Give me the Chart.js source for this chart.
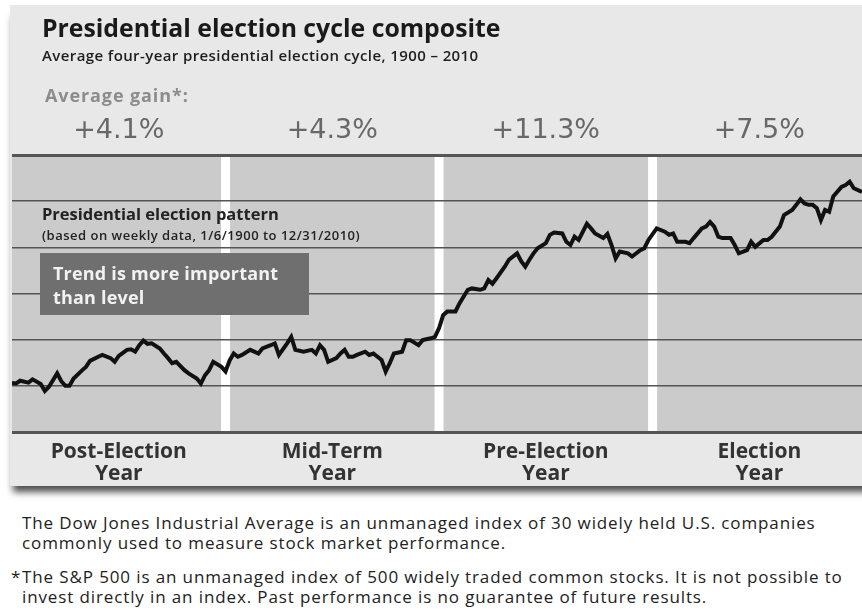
<!DOCTYPE html>
<html>
<head>
<meta charset="utf-8">
<title>Presidential election cycle composite</title>
<script src="https://cdn.jsdelivr.net/npm/chart.js@4.4.1/dist/chart.umd.min.js"></script>
<style>
    body {
        margin: 0;
        width: 862px;
        height: 610px;
        overflow: hidden;
        background: #fff;
        position: relative;
        font-family: "Open Sans", sans-serif;
        color: #1e1e1e;
    }
    .panel {
        position: absolute;
        left: 10px;
        top: 5px;
        width: 870px;
        height: 481px;
        background: #e8e8e8;
        box-shadow: 0 9px 7px -3px rgba(0, 0, 0, 0.7);
    }
    #cycleChart {
        position: absolute;
        left: 0;
        top: 0;
    }
    .txt {
        position: absolute;
        white-space: nowrap;
    }
    .title { left: 42px; top: 12px; font: 700 24.8px/30px "Open Sans", sans-serif; color: #1a1a1a; }
    .subtitle { left: 42px; top: 45px; font: 600 15px/20px "Open Sans", sans-serif; letter-spacing: 0.4px; }
    .gain-label { left: 45px; top: 84px; font: 700 18px/22px "Open Sans", sans-serif; letter-spacing: 0.9px; color: #8c8c8c; }
    .pattern { left: 42px; top: 203px; font: 700 16.5px/22px "Open Sans", sans-serif; color: #222; }
    .pattern-sub { left: 42px; top: 227px; font: 600 13px/16px "Open Sans", sans-serif; letter-spacing: 0.5px; color: #222; }
    .trend-box {
        left: 40px; top: 253px; width: 256px; height: 54px;
        padding: 8px 0 0 13px;
        background: #6f6f6f; color: #f2f2f2;
        font: 700 18px/24px "Open Sans", sans-serif;
        letter-spacing: 0.2px;
        white-space: normal;
    }
    .note { left: 22px; font: 17px/20px "Open Sans", sans-serif; letter-spacing: 0.88px; color: #222; }
    .star { left: 11px; font: 17px/20px "Open Sans", sans-serif; color: #222; }
</style>
</head>
<body>
<div class="panel"></div>
<canvas id="cycleChart" width="862" height="500"></canvas>

<div class="txt title">Presidential election cycle composite</div>
<div class="txt subtitle">Average four-year presidential election cycle, 1900 – 2010</div>
<div class="txt gain-label">Average gain*:</div>
<div class="txt pattern">Presidential election pattern</div>
<div class="txt pattern-sub">(based on weekly data, 1/6/1900 to 12/31/2010)</div>
<div class="txt trend-box">Trend is more important<br>than level</div>

<div class="txt note" style="top:513px">The Dow Jones Industrial Average is an unmanaged index of 30 widely held U.S. companies<br>commonly used to measure stock market performance.</div>
<div class="txt star" style="top:567px">*</div>
<div class="txt note" style="top:567px">The S&amp;P 500 is an unmanaged index of 500 widely traded common stocks. It is not possible to<br>invest directly in an index. Past performance is no guarantee of future results.</div>

<script>
// week of the four-year cycle (0 = start of post-election year)
const weeks = [0, 1, 2, 4, 5, 7, 8, 9, 11, 12,
    13, 14, 15, 17, 18, 19, 21, 22, 24, 25,
    26, 28, 29, 30, 31, 32, 33, 34, 36, 37,
    38, 39, 40, 42, 43, 45, 46, 47, 48, 49,
    51, 52, 53, 54, 55, 56, 58, 59, 60, 61,
    63, 64, 65, 67, 68, 69, 71, 73, 74, 75,
    76, 77, 79, 80, 81, 82, 83, 84, 86, 87,
    88, 90, 91, 92, 93, 95, 96, 97, 99, 100,
    102, 103, 104, 105, 106, 108, 109, 111, 112, 114,
    115, 116, 117, 118, 120, 121, 123, 124, 125, 126,
    127, 128, 130, 131, 132, 134, 135, 136, 137, 138,
    140, 141, 142, 144, 145, 146, 147, 148, 150, 151,
    153, 154, 155, 157, 159, 160, 161, 162, 164, 165,
    166, 168, 169, 170, 171, 172, 173, 175, 176, 177,
    179, 180, 181, 183, 184, 185, 187, 188, 190, 191,
    192, 193, 194, 195, 196, 197, 198, 199, 200, 202,
    203, 204, 205, 207];

// composite level (in grid-line units)
const composite = [1.06, 1.05, 1.11, 1.07, 1.14, 1.04, 0.89, 0.98, 1.27, 1.10,
    1.00, 1.00, 1.16, 1.33, 1.41, 1.54, 1.63, 1.67, 1.60, 1.52,
    1.65, 1.78, 1.79, 1.74, 1.88, 1.98, 1.91, 1.92, 1.81, 1.70,
    1.60, 1.49, 1.52, 1.34, 1.27, 1.16, 1.05, 1.23, 1.34, 1.52,
    1.41, 1.31, 1.55, 1.70, 1.63, 1.67, 1.78, 1.74, 1.70, 1.81,
    1.88, 1.92, 1.67, 1.92, 2.06, 1.78, 1.74, 1.78, 1.70, 1.88,
    1.78, 1.52, 1.60, 1.70, 1.78, 1.63, 1.63, 1.67, 1.74, 1.67,
    1.70, 1.56, 1.31, 1.49, 1.70, 1.74, 1.99, 1.99, 1.88, 1.99,
    2.03, 2.06, 2.25, 2.53, 2.61, 2.61, 2.79, 3.08, 3.11, 3.08,
    3.11, 3.29, 3.21, 3.33, 3.58, 3.73, 3.87, 3.70, 3.58, 3.73,
    3.87, 3.98, 4.09, 4.27, 4.32, 4.30, 4.12, 4.05, 4.23, 4.16,
    4.51, 4.41, 4.30, 4.20, 4.29, 4.05, 3.76, 3.91, 3.87, 3.80,
    3.94, 3.98, 4.16, 4.41, 4.34, 4.27, 4.30, 4.12, 4.12, 4.09,
    4.20, 4.41, 4.45, 4.55, 4.45, 4.23, 4.20, 4.20, 4.05, 3.87,
    3.94, 4.12, 4.01, 4.16, 4.16, 4.23, 4.45, 4.70, 4.81, 4.92,
    5.04, 4.95, 4.92, 4.92, 4.85, 4.59, 4.81, 4.77, 5.10, 5.31,
    5.35, 5.42, 5.28, 5.20];

const yearLabels = [
    ['Post-Election', 'Year'],
    ['Mid-Term', 'Year'],
    ['Pre-Election', 'Year'],
    ['Election', 'Year']
];
const avgGain = ['+4.1%', '+4.3%', '+11.3%', '+7.5%'];
const yearCenters = [26, 78, 130, 182];
const yearBreaks = [52, 104, 156];

// gray plot band + white year separators, drawn under the grid lines
const bandPlugin = {
    id: 'yearBands',
    beforeDraw(chart) {
        const ctx = chart.ctx;
        const a = chart.chartArea;
        const xs = chart.scales.x;
        ctx.save();
        ctx.fillStyle = '#cbcbcb';
        ctx.fillRect(a.left, a.top, a.right - a.left, a.bottom - a.top);
        ctx.fillStyle = '#ffffff';
        yearBreaks.forEach(function(w) {
            const px = xs.getPixelForValue(w);
            ctx.fillRect(px - 4.5, a.top, 9, a.bottom - a.top);
        });
        ctx.restore();
    }
};

const canvas = document.getElementById('cycleChart');

new Chart(canvas, {
    type: 'line',
    data: {
        datasets: [{
            data: weeks.map((w, i) => ({ x: w, y: composite[i] })),
            borderColor: '#111',
            borderWidth: 4,
            pointRadius: 0,
            tension: 0
        }]
    },
    options: {
        responsive: false,
        animation: false,
        layout: { padding: { top: 100, left: 12, right: 0, bottom: 8 } },
        plugins: {
            legend: { display: false },
            tooltip: { enabled: false }
        },
        scales: {
            x: {
                type: 'linear',
                position: 'bottom',
                min: 0,
                max: 207,
                grid: { display: false, drawTicks: false },
                border: { display: false },
                afterBuildTicks: s => { s.ticks = yearCenters.map(v => ({ value: v })); },
                afterFit: s => { s.height = 60; },
                ticks: {
                    padding: 9,
                    autoSkip: false,
                    maxRotation: 0,
                    color: '#333',
                    font: { family: "'Open Sans', sans-serif", size: 21, weight: 'bold', lineHeight: 1.048 },
                    callback: (v, i) => yearLabels[i]
                }
            },
            x2: {
                type: 'linear',
                position: 'top',
                min: 0,
                max: 207,
                grid: { display: false, drawTicks: false },
                border: { display: false },
                afterBuildTicks: s => { s.ticks = yearCenters.map(v => ({ value: v })); },
                afterFit: s => { s.height = 55; },
                ticks: {
                    padding: 8,
                    autoSkip: false,
                    maxRotation: 0,
                    color: '#686868',
                    font: { family: "'DejaVu Sans', sans-serif", size: 27 },
                    callback: (v, i) => avgGain[i]
                }
            },
            y: {
                min: 0,
                max: 6,
                afterFit: s => { s.width = 0; },
                ticks: { display: false, stepSize: 1 },
                border: { display: false },
                grid: {
                    drawTicks: false,
                    color: '#555',
                    lineWidth: c => (c.tick && (c.tick.value === 0 || c.tick.value === 6)) ? 3 : 1.5
                }
            }
        }
    },
    plugins: [bandPlugin]
});
</script>
</body>
</html>
